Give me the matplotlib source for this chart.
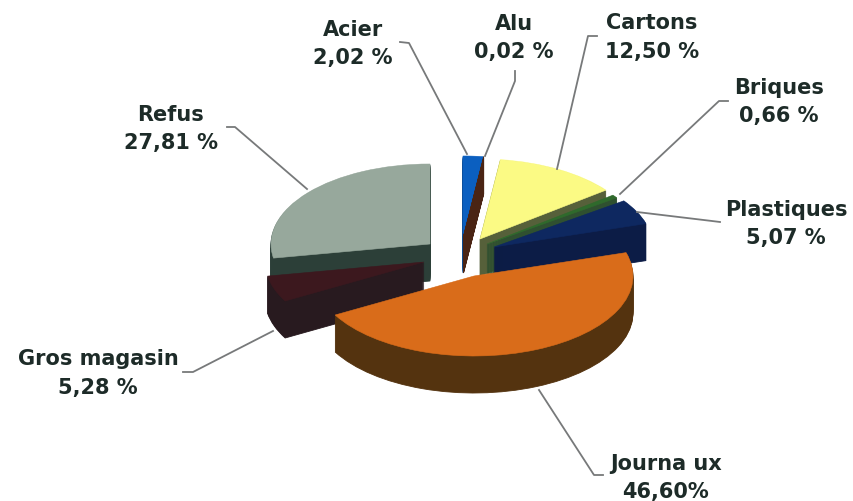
import matplotlib
matplotlib.use("Agg")
import matplotlib.pyplot as plt
from matplotlib.patches import Wedge

# Data
names = ["Acier", "Alu", "Cartons", "Briques", "Plastiques", "Journa ux", "Gros magasin", "Refus"]
values = [2.02, 0.02, 12.50, 0.66, 5.07, 46.60, 5.28, 27.81]
value_labels = ["2,02 %", "0,02 %", "12,50 %", "0,66 %", "5,07 %", "46,60%", "5,28 %", "27,81 %"]

# Styles
top_colors = ["#0b5fc0", "#4a2414", "#fbfa84", "#2f6a2c", "#0e2860", "#d96c1a", "#3c181e", "#97a89c"]
wall_colors = ["#0b4a90", "#4a2414", "#56603a", "#2f5030", "#0c1c46", "#54330f", "#281a1f", "#2c3f38"]
# apex of each slice in pixels (exploded layout)
apex_px = [(463, 237), (463.5, 237), (480, 240), (487, 245), (494, 248), (474, 277), (424, 263), (430, 245)]
draw_order = [7, 0, 1, 2, 3, 4, 6, 5]
label_px = [(353, 44), (514, 38), (652, 37.5), (779, 102), (786, 224), (666, 478), (98, 373.5), (171, 129)]
leaders_px = [
    [(400, 43), (409, 44), (467, 155)],
    [(515, 72), (515, 82), (485, 157)],
    [(597, 37), (588, 37), (557, 170)],
    [(728, 102), (719, 102), (620, 195)],
    [(720, 223), (712, 222), (637, 213)],
    [(603, 476), (594, 476), (539, 391)],
    [(183, 373), (193, 373), (273, 332)],
    [(227, 128), (235, 128), (307, 190)],
]
W, H = 854, 502
RX, RY, DEPTH = 159, 80, 37
TEXT = "#1d2b28"

fig = plt.figure(figsize=(W / 100, H / 100), dpi=100, facecolor="white")

# Pie axes: one data unit equals RX pixels in x and RY pixels in y (a tilted unit circle)
ax = fig.add_axes([0, 0, 1, 1])
ax.set_xlim(0, W / RX)
ax.set_ylim(-H / RY, 0)
ax.axis("off")

def to_data(px, py):
    return px / RX, -py / RY

total = sum(values)
starts = []
acc = 0.0
for v in values:
    starts.append(acc)
    acc += v

z = 0
for i in draw_order:
    theta_end = 90 - starts[i] / total * 360
    theta_start = theta_end - values[i] / total * 360
    cx, cy = to_data(*apex_px[i])
    for d in range(DEPTH, 0, -1):
        z += 1
        ax.add_patch(Wedge((cx, cy - d / RY), 1, theta_start, theta_end, fc=wall_colors[i],
                           ec=wall_colors[i], lw=0.6, zorder=z))
    z += 1
    ax.add_patch(Wedge((cx, cy), 1, theta_start, theta_end, fc=top_colors[i],
                       ec=top_colors[i], lw=0.4, zorder=z))

# Overlay axes in pixels for leaders and labels
ov = fig.add_axes([0, 0, 1, 1])
ov.set_xlim(0, W)
ov.set_ylim(H, 0)
ov.axis("off")
ov.patch.set_alpha(0)

for pts in leaders_px:
    ov.plot([p[0] for p in pts], [p[1] for p in pts], color="#77797a", lw=1.3, solid_joinstyle="round")

for name, val, (x, y) in zip(names, value_labels, label_px):
    ov.text(x, y, f"{name}\n{val}", ha="center", va="center", fontsize=15, fontweight="bold",
            family="DejaVu Sans", color=TEXT, linespacing=1.52)

fig.savefig("out.png", dpi=100, facecolor="white")
